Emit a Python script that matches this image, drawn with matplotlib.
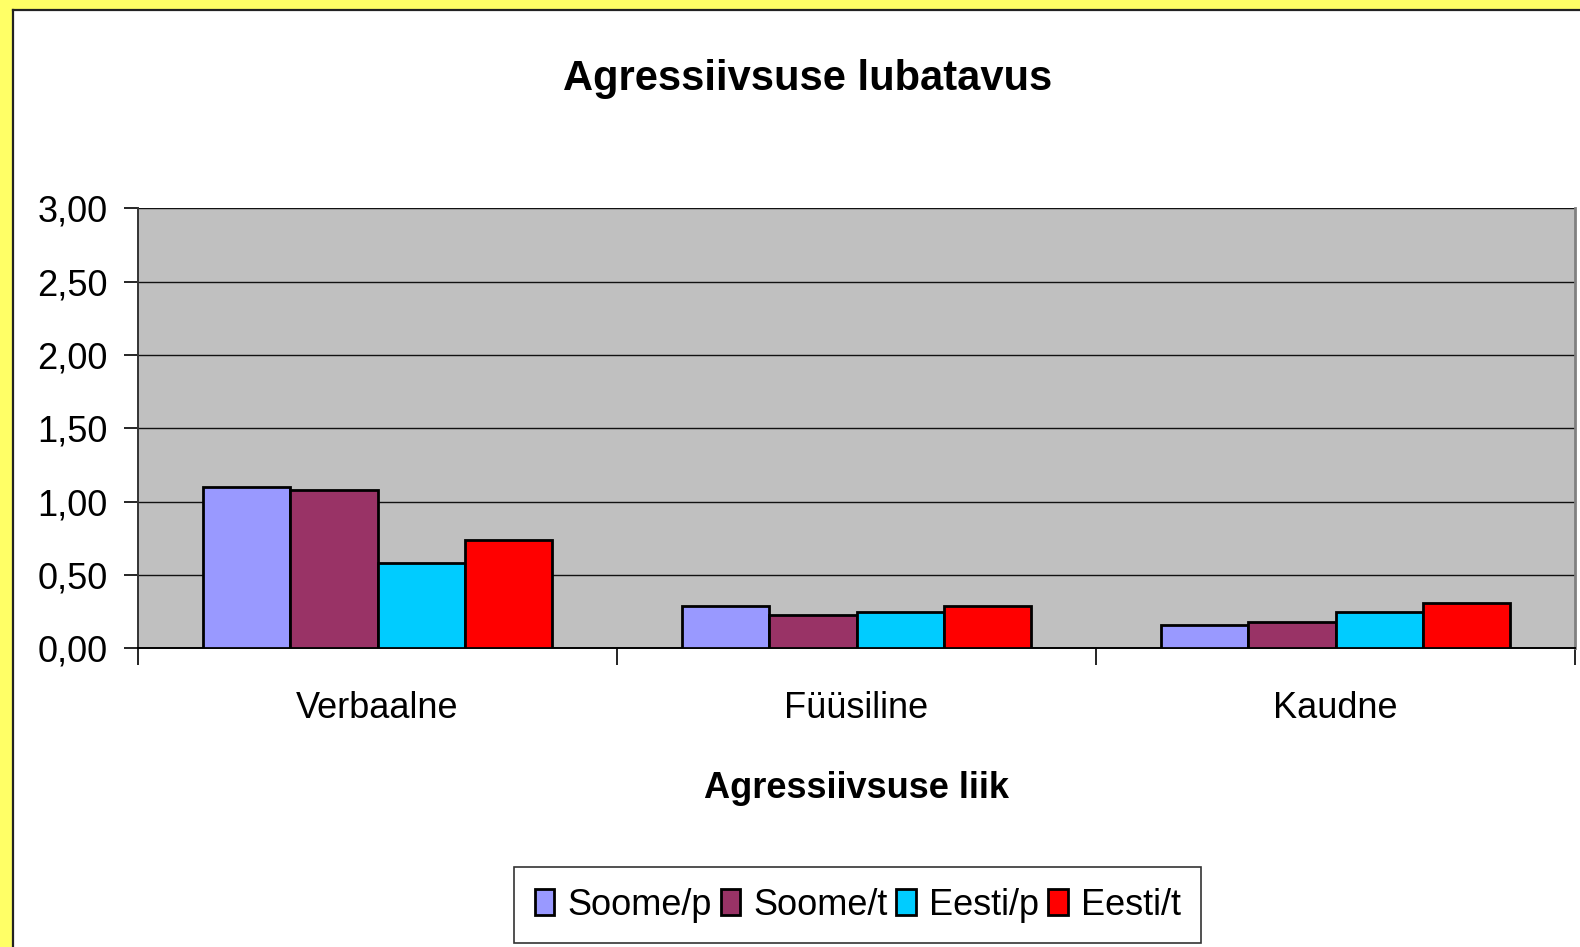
import numpy as np
import matplotlib
matplotlib.use('Agg')
import matplotlib.pyplot as plt
from matplotlib.patches import Rectangle
from matplotlib.lines import Line2D

## data
categories = ['Verbaalne', 'Füüsiline', 'Kaudne']
series = ['Soome/p', 'Soome/t', 'Eesti/p', 'Eesti/t']
soome_p = [1.10, 0.29, 0.16]
soome_t = [1.08, 0.23, 0.18]
eesti_p = [0.58, 0.25, 0.25]
eesti_t = [0.74, 0.29, 0.31]
yticks = [0.0, 0.5, 1.0, 1.5, 2.0, 2.5, 3.0]
ytick_labels = ['0,00', '0,50', '1,00', '1,50', '2,00', '2,50', '3,00']

values = [soome_p, soome_t, eesti_p, eesti_t]
colors = ['#9999FF', '#993366', '#00CCFF', '#FF0000']

plt.rcParams['font.family'] = ['Liberation Sans', 'DejaVu Sans']

W, H = 1580, 947
fig = plt.figure(figsize=(W / 100, H / 100), dpi=100)
fig.patch.set_facecolor('#FFFF66')

## white chart area with black edge on left / top
fig.patches.append(Rectangle((13 / W, 0), 1, 1 - 10 / H, transform=fig.transFigure,
                             facecolor='white', edgecolor='none', zorder=-1))
fig.lines.append(Line2D([13 / W, 13 / W], [0, 1 - 10 / H], transform=fig.transFigure,
                        color='#222222', lw=1.6))
fig.lines.append(Line2D([13 / W, 1], [1 - 10 / H, 1 - 10 / H], transform=fig.transFigure,
                        color='#222222', lw=1.6))

ax = fig.add_axes([138 / W, (H - 648.3) / H, (1575 - 138) / W, (648.3 - 208.3) / H])
ax.set_facecolor('#C0C0C0')

x = np.arange(len(categories))
width = 1 / 5.5
for i, (vals, name, c) in enumerate(zip(values, series, colors)):
    ax.bar(x + (i - 1.5) * width, vals, width, color=c, edgecolor='black',
           linewidth=2.0, label=name, zorder=3)

ax.set_xlim(-0.5, 2.5)
ax.set_ylim(0, 3)
ax.set_yticks(yticks)
ax.set_yticklabels(ytick_labels, fontsize=26)
ax.yaxis.grid(True, color='#111111', linewidth=1.0, zorder=1)
ax.set_axisbelow(True)

## ticks at category borders, labels at centres
ax.set_xticks([-0.5, 0.5, 1.5, 2.5])
ax.set_xticklabels([])
ax.set_xticks(x, minor=True)
ax.set_xticklabels(categories, minor=True, fontsize=26)
ax.tick_params(axis='x', which='major', length=12, width=1.2, direction='out')
ax.tick_params(axis='x', which='minor', length=0, pad=31)
ax.tick_params(axis='y', length=10, width=1.2, pad=12)

ax.spines['top'].set_visible(False)
ax.spines['right'].set_color('#808080')
ax.spines['right'].set_linewidth(2)
ax.spines['left'].set_color('#333333')
ax.spines['left'].set_linewidth(1.4)
ax.spines['bottom'].set_color('black')
ax.spines['bottom'].set_linewidth(1.4)

ax.set_xlabel('Agressiivsuse liik', fontsize=26, fontweight='bold')
ax.xaxis.set_label_coords(0.5, (648.3 - 798.3) / 440)
ax.xaxis.label.set_va('baseline')

fig.text(807.5 / W, 1 - 90 / H, 'Agressiivsuse lubatavus', fontsize=30,
         fontweight='bold', ha='center', va='baseline')

leg = ax.legend(loc='center', bbox_to_anchor=(857.7 / W, 1 - 905 / H),
                bbox_transform=fig.transFigure, ncol=4, fontsize=26,
                frameon=True, fancybox=False, edgecolor='black',
                handlelength=0.55, handleheight=0.72, handletextpad=0.36,
                columnspacing=0.24, borderpad=0.56, borderaxespad=0)
leg.get_frame().set_linewidth(1.2)
for h in leg.legend_handles:
    h.set_linewidth(2.0)

plt.savefig('out.png', dpi=100)
